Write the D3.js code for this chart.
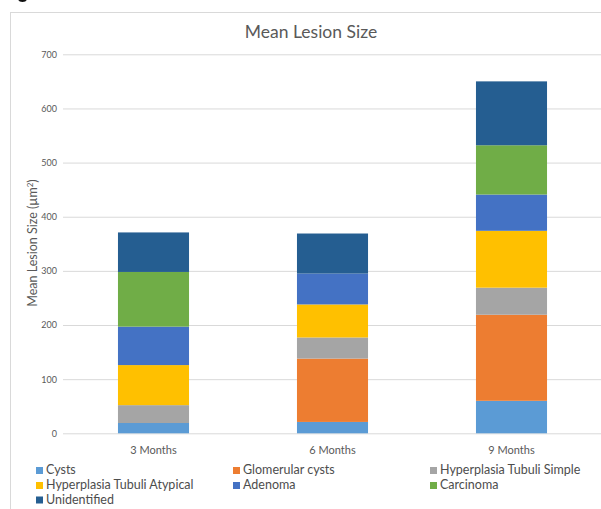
<!DOCTYPE html>
<html>
<head>
<meta charset="utf-8">
<script src="https://cdn.jsdelivr.net/npm/d3@7"></script>
<style>
  html, body { margin: 0; padding: 0; background: #fff; }
  svg { display: block; }
  text { font-family: Lato, "Open Sans", sans-serif; }
</style>
</head>
<body>
<svg id="chart" width="601" height="509"></svg>
<script>
// Mean lesion size per time point, stacked by lesion type
const categories = ["3 Months", "6 Months", "9 Months"];
const seriesNames = [
  "Cysts", "Glomerular cysts", "Hyperplasia Tubuli Simple",
  "Hyperplasia Tubuli Atypical", "Adenoma", "Carcinoma", "Unidentified"
];
const cysts               = [19, 21, 60];
const glomerularCysts     = [0, 117, 159];
const hyperplasiaSimple   = [33, 39, 50];
const hyperplasiaAtypical = [74, 61, 105];
const adenoma             = [71, 57, 67];
const carcinoma           = [101, 0, 91];
const unidentified        = [73, 74, 118];
const yTicks = [0, 100, 200, 300, 400, 500, 600, 700];

const seriesValues = [cysts, glomerularCysts, hyperplasiaSimple,
  hyperplasiaAtypical, adenoma, carcinoma, unidentified];
const colors = ["#5B9BD5", "#ED7D31", "#A5A5A5", "#FFC000", "#4472C4", "#70AD47", "#255E91"];

const rows = categories.map((c, i) => {
  const r = { category: c };
  seriesNames.forEach((s, k) => { r[s] = seriesValues[k][i]; });
  return r;
});

const svg = d3.select("#chart");
const plot = { left: 63, right: 601, top: 54.3, bottom: 433.3 };

// chart area frame
svg.append("rect")
  .attr("x", 10.5).attr("y", 12.5)
  .attr("width", 700).attr("height", 600)
  .attr("fill", "#fff").attr("stroke", "#d9d9d9");

// bottom edge of a dark mark sitting above the frame
svg.append("ellipse")
  .attr("cx", 22.5).attr("cy", -1.5)
  .attr("rx", 4.5).attr("ry", 3.5)
  .attr("fill", "#111");

const x = d3.scaleBand().domain(categories)
  .range([plot.left + 1, plot.right]).paddingInner(0.603).paddingOuter(0.3015);
const y = d3.scaleLinear().domain([0, 700]).range([plot.bottom, plot.top]);

// gridlines + y tick labels
const yAxis = svg.append("g")
  .attr("transform", `translate(${plot.left},0)`)
  .call(d3.axisLeft(y).tickValues(yTicks)
    .tickSizeInner(-(plot.right - plot.left)).tickSizeOuter(0).tickPadding(6));
yAxis.select(".domain").remove();
yAxis.selectAll(".tick line").attr("stroke", "#d9d9d9").attr("stroke-width", 1);
yAxis.selectAll(".tick text")
  .attr("fill", "#595959").attr("font-size", 9)
  .attr("font-family", "Lato, sans-serif");

// stacked bars
const stack = d3.stack().keys(seriesNames)(rows);
svg.append("g").selectAll("g")
  .data(stack).join("g")
  .attr("fill", (d, i) => colors[i])
  .selectAll("rect")
  .data(d => d).join("rect")
  .attr("x", d => x(d.data.category))
  .attr("width", x.bandwidth())
  .attr("y", d => y(d[1]))
  .attr("height", d => y(d[0]) - y(d[1]));

// x axis labels
const xAxis = svg.append("g")
  .attr("transform", `translate(0,${plot.bottom})`)
  .call(d3.axisBottom(x).tickSize(0).tickPadding(13));
xAxis.select(".domain").remove();
xAxis.selectAll(".tick text")
  .attr("fill", "#595959").attr("font-size", 11)
  .attr("font-family", "Lato, sans-serif");

// title
svg.append("text")
  .attr("x", 311).attr("y", 38)
  .attr("text-anchor", "middle")
  .attr("fill", "#595959").attr("font-size", 17.5)
  .text("Mean Lesion Size");

// y axis title
const yTitle = svg.append("text")
  .attr("transform", "translate(37,243) rotate(-90)")
  .attr("text-anchor", "middle")
  .attr("fill", "#595959").attr("font-size", 12.5);
yTitle.append("tspan").text("Mean Lesion Size (µm");
yTitle.append("tspan").attr("dy", -4).attr("font-size", 8).text("2");
yTitle.append("tspan").attr("dy", 4).text(")");

// legend
const legendCols = [36, 233, 430];
const legendRows = [467, 482, 496.5];
const legend = svg.append("g").selectAll("g")
  .data(seriesNames).join("g")
  .attr("transform", (d, i) =>
    `translate(${legendCols[i % 3]},${legendRows[Math.floor(i / 3)]})`);
legend.append("rect")
  .attr("width", 7).attr("height", 7)
  .attr("fill", (d, i) => colors[i]);
legend.append("text")
  .attr("x", 10).attr("y", 7.2)
  .attr("fill", "#4d4d4d").attr("font-size", 12.5)
  .text(d => d);
</script>
</body>
</html>
